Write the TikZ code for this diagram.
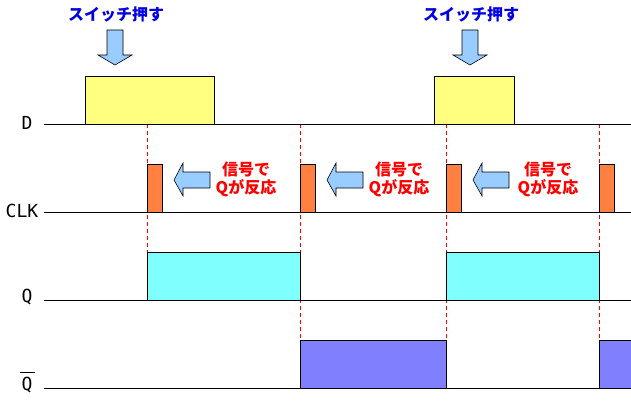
\documentclass[tikz,border=0pt]{standalone}
\usepackage{fontspec}
\newfontfamily\jp{Noto Sans CJK JP}
\newfontfamily\lab{DejaVu Sans Mono}
\begin{document}
\begin{tikzpicture}[x=1pt,y=-1pt,
  sig/.style={draw=black,line width=0.9pt},
  base/.style={draw=black,line width=0.9pt},
  guide/.style={draw=red,dashed,line width=0.6pt,dash pattern=on 4pt off 3pt},
  arr/.style={draw=black,fill=arrowblue,line width=0.6pt,line join=miter},
  bluetxt/.style={font=\jp\bfseries\fontsize{16}{18}\selectfont,text=pressblue,inner sep=0pt},
  redtxt/.style={font=\jp\bfseries\fontsize{16}{18}\selectfont,text=red,align=center,inner sep=0pt},
  lbl/.style={font=\lab\fontsize{18}{18}\selectfont,inner sep=0pt}]
\definecolor{dyellow}{HTML}{FFFF80}
\definecolor{clkorange}{HTML}{FF8040}
\definecolor{qcyan}{HTML}{80FFFF}
\definecolor{qbpurple}{HTML}{8080FF}
\definecolor{arrowblue}{HTML}{99CCFF}
\definecolor{pressblue}{HTML}{0000E0}
\useasboundingbox[fill=white] (0,0) rectangle (631,404);
% guides
\draw[guide] (147,124) -- (147,252);
\draw[guide] (300,124) -- (300,340);
\draw[guide] (446,124) -- (446,340);
\draw[guide] (599,124) -- (599,340);
% D
\draw[sig,fill=dyellow] (85,124) rectangle (214,76);
\draw[sig,fill=dyellow] (434,124) rectangle (514,76);
\draw[base] (44,124) -- (631,124);
% CLK
\foreach \x in {147,300,446,599}
  \draw[sig,fill=clkorange] (\x,212) rectangle (\x+15,164);
\draw[base] (44,212) -- (631,212);
% Q
\draw[sig,fill=qcyan] (147,300) rectangle (300,252);
\draw[sig,fill=qcyan] (446,300) rectangle (599,252);
\draw[base] (44,300) -- (631,300);
% Qbar
\draw[sig,fill=qbpurple] (300,388) rectangle (446,340);
\draw[sig,fill=qbpurple] (631,388) -- (599,388) -- (599,340) -- (631,340);
\draw[base] (44,388) -- (631,388);
% labels
\node[lbl] (lD) at (27,123) {D};
\node[lbl] (lCLK) at (22,211) {CLK};
\node[lbl] (lQ) at (27,297) {Q};
\node[lbl] (lQb) at (27,385) {Q};
\draw[line width=1pt] (20,372) -- (35,372);
% press arrows and text
\foreach \c/\n in {115/a,470/b}{
  \draw[arr] (\c-8,30) -- (\c+8,30) -- (\c+8,55) -- (\c+17,55) -- (\c,65) -- (\c-17,55) -- (\c-8,55) -- cycle;
  \node[bluetxt] (press\n) at (\c+1,14) {スイッチ押す};
}
% left arrows and texts
\foreach \t/\m/\n in {174/246/a,327/399/b,473/548/c}{
  \draw[arr] (\t,180) -- (\t+9,163) -- (\t+9,172) -- (\t+36,172) -- (\t+36,188) -- (\t+9,188) -- (\t+9,196) -- cycle;
  \node[redtxt] (resp\n) at (\m,179) {信号で\\Qが反応};
}
\end{tikzpicture}
\end{document}
